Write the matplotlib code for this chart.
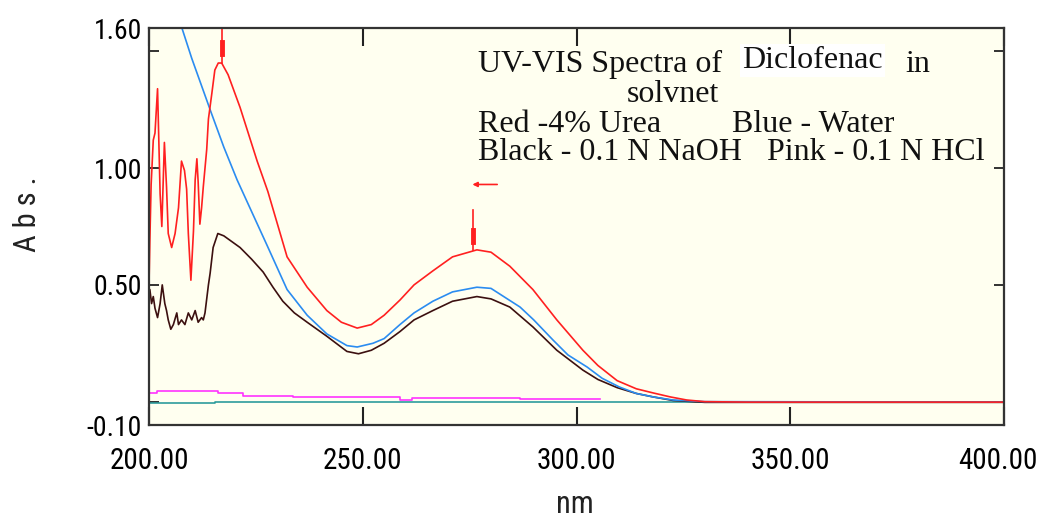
import matplotlib
matplotlib.use("Agg")
import matplotlib.pyplot as plt
import matplotlib.transforms as mtransforms
from matplotlib import font_manager as fm

# wavelength (nm) / absorbance
red_nm = [200.0, 200.2, 200.5, 201.0, 201.4, 202.0, 202.6, 203.0, 203.6, 204.1, 204.5,
          205.3, 206.1, 206.9, 207.6, 208.3, 208.8, 209.2, 209.8, 210.4, 210.8, 211.2,
          211.5, 211.9, 212.3, 212.7, 213.1, 213.5, 213.9, 214.7, 215.4, 216.2, 217.0,
          218.5, 221.3, 225.3, 227.8, 232.3, 237.0, 241.6, 245.0, 248.7, 252.0, 255.0,
          258.7, 262.0, 266.4, 271.0, 276.7, 280.0, 284.4, 289.8, 295.4, 301.5, 305.0,
          309.5, 314.0, 318.0, 322.0, 325.8, 330.0, 340.0, 400.0]
red_abs = [0.50, 0.69, 0.93, 1.12, 1.15, 1.34, 0.89, 0.75, 1.11, 0.92, 0.72,
           0.66, 0.72, 0.83, 1.03, 0.99, 0.91, 0.72, 0.52, 0.73, 0.95, 1.04,
           0.94, 0.76, 0.83, 0.92, 1.00, 1.08, 1.21, 1.32, 1.42, 1.45, 1.45,
           1.40, 1.26, 1.03, 0.90, 0.62, 0.49, 0.39, 0.34, 0.315, 0.33, 0.37,
           0.435, 0.50, 0.56, 0.62, 0.65, 0.64, 0.58, 0.48, 0.35, 0.22, 0.155,
           0.09, 0.055, 0.037, 0.02, 0.007, 0.0, -0.002, -0.002]

blue_nm = [200.0, 204.0, 207.7, 210.0, 214.5, 217.5, 220.6, 223.6, 227.6, 232.3, 237.0,
           241.6, 246.3, 248.7, 252.4, 255.0, 258.7, 262.0, 266.4, 271.0, 276.7, 280.0,
           286.8, 290.0, 294.5, 298.0, 302.5, 306.0, 310.0, 314.0, 318.0, 322.6, 330.0, 400.0]
blue_abs = [2.0, 1.80, 1.60, 1.47, 1.24, 1.09, 0.95, 0.83, 0.67, 0.48, 0.37,
            0.29, 0.24, 0.234, 0.25, 0.27, 0.33, 0.38, 0.43, 0.47, 0.49, 0.485,
            0.405, 0.35, 0.264, 0.20, 0.148, 0.10, 0.063, 0.035, 0.02, 0.007, 0.0, -0.002]

black_nm = [200.0, 200.2, 200.6, 201.0, 201.4, 202.0, 202.6, 203.1, 203.7, 204.1, 204.5,
            205.1, 205.7, 206.5, 206.9, 207.6, 208.4, 209.2, 210.0, 210.8, 211.5, 212.3,
            212.7, 213.1, 213.5, 213.9, 214.3, 215.0, 216.1, 217.5, 221.3, 224.0, 226.7,
            229.0, 231.3, 234.0, 237.0, 241.6, 246.3, 249.0, 252.0, 255.0, 258.7, 262.0,
            266.4, 271.0, 276.7, 280.0, 284.4, 289.8, 295.4, 301.5, 305.0, 309.5, 314.0,
            318.0, 322.6, 330.0, 400.0]
black_abs = [0.44, 0.48, 0.42, 0.45, 0.40, 0.36, 0.42, 0.50, 0.42, 0.39, 0.35,
             0.31, 0.33, 0.38, 0.33, 0.35, 0.33, 0.38, 0.35, 0.39, 0.34, 0.36,
             0.35, 0.38, 0.44, 0.50, 0.55, 0.66, 0.72, 0.71, 0.66, 0.61, 0.555,
             0.49, 0.43, 0.38, 0.34, 0.28, 0.215, 0.205, 0.22, 0.25, 0.30, 0.35,
             0.39, 0.43, 0.45, 0.44, 0.405, 0.32, 0.22, 0.135, 0.095, 0.06, 0.035,
             0.02, 0.005, -0.003, -0.003]

pink_nm = [200.0, 201.9, 216.1, 222.0, 233.7, 258.7, 261.5, 286.8, 305.5]
pink_abs = [0.035, 0.047, 0.036, 0.024, 0.018, 0.008, 0.017, 0.012, 0.012]

teal_nm = [200.0, 215.4, 400.0]
teal_abs = [-0.004, 0.0, 0.0]

peak_nm = [217.0, 275.8]
peak_abs = [1.45, 0.65]

x_ticks = [200, 250, 300, 350, 400]
x_labels = ["200.00", "250.00", "300.00", "350.00", "400.00"]
y_ticks = [-0.1, 0.5, 1.0, 1.6]
y_labels = ["-0.10", "0.50", "1.00", "1.60"]
y_minor = [0.0, 1.5]


def available(name, stretch="normal"):
    try:
        path = fm.findfont(fm.FontProperties(family=name, stretch=stretch),
                           fallback_to_default=False)
    except ValueError:
        return False
    if stretch == "condensed":
        return "ondensed" in path
    return True


# narrow sans for the axis texts, if one is there
narrow, nstretch, nscale = ["Liberation Sans", "DejaVu Sans"], "normal", 0.8
for cand in ["Liberation Sans Narrow", "Arial Narrow", "Roboto Condensed"]:
    if available(cand):
        narrow, nscale = [cand, "DejaVu Sans"], 1.0
        break
else:
    if available("DejaVu Sans", "condensed"):
        narrow, nstretch, nscale = ["DejaVu Sans"], "condensed", 0.88
serif = ["Liberation Serif", "DejaVu Serif"]

W, H = 1039, 518
fig = plt.figure(figsize=(W / 100, H / 100), dpi=100)
fig.patch.set_facecolor("white")
ax = fig.add_axes([149 / W, 1 - 425 / H, (1004 - 149) / W, (425 - 28) / H])
ax.set_facecolor("#fffff0")

ax.plot(teal_nm, teal_abs, color="#2e9c9c", lw=1.2, drawstyle="steps-post")
ax.plot(pink_nm, pink_abs, color="#ff33ff", lw=1.2, drawstyle="steps-post")
ax.plot(black_nm, black_abs, color="#3c1010", lw=1.2)
ax.plot(blue_nm, blue_abs, color="#2b8cf0", lw=1.2)
ax.plot(red_nm, red_abs, color="#ff2020", lw=1.2)

# peak pick markers
ax.plot([peak_nm[0], peak_nm[0]], [1.6, peak_abs[0]], color="#ff2020", lw=1.2)
ax.plot([peak_nm[0], peak_nm[0]], [1.49, 1.54], color="#ff2020", lw=3.5)
ax.plot([peak_nm[1], peak_nm[1]], [0.82, peak_abs[1]], color="#ff2020", lw=1.2)
ax.plot([peak_nm[1], peak_nm[1]], [0.685, 0.735], color="#ff2020", lw=3.5)
ax.annotate("", xy=(peak_nm[1] - 0.8, 0.93), xytext=(282.1, 0.93),
            arrowprops=dict(arrowstyle="-|>", color="#ff2020", lw=1.2,
                            mutation_scale=7))

tick_font = dict(family=narrow, stretch=nstretch)
ax.set_xlim(200, 400)
ax.set_ylim(-0.1, 1.6)
ax.set_xticks(x_ticks)
ax.set_xticklabels(x_labels, fontsize=21 * nscale, **tick_font)
ax.set_yticks(y_ticks)
ax.set_yticklabels(y_labels, fontsize=20 * nscale, **tick_font)
ax.set_yticks(y_minor, minor=True)
ax.tick_params(axis="x", direction="in", length=13, width=1.5, top=True, pad=16,
               color="#222222")
ax.tick_params(axis="y", which="both", direction="in", length=7, width=1.3, right=True,
               pad=5, color="#222222")
for s in ax.spines.values():
    s.set_linewidth(1.6)
    s.set_color("#333333")

# last x label sits a little left of its tick so it stays inside the picture
last = ax.get_xticklabels()[-1]
last.set_transform(last.get_transform()
                   + mtransforms.ScaledTranslation(-0.06, 0, fig.dpi_scale_trans))

fig.text(28 / W, 1 - 214 / H, "A b s .", rotation=90, ha="center", va="center",
         fontsize=22 * nscale, color="#222222", **tick_font)
fig.text(575 / W, 1 - 513 / H, "nm", ha="center", va="baseline",
         fontsize=22 * nscale, color="#222222", **tick_font)


def put(x, y, s, **kw):
    fig.text(x / W, 1 - y / H, s, ha="left", va="baseline", family=serif,
             fontsize=23, color="#111111", **kw)


put(478, 72, "UV-VIS Spectra of")
put(742, 68, "Diclofenac", bbox=dict(facecolor="white", edgecolor="none", pad=1.5))
put(905, 72, "in")
put(627, 102, "solvnet")
put(478, 132, "Red -4% Urea")
put(732, 132, "Blue - Water")
put(478, 160, "Black - 0.1 N NaOH")
put(767, 160, "Pink - 0.1 N HCl")

fig.savefig("out.png", dpi=100)
